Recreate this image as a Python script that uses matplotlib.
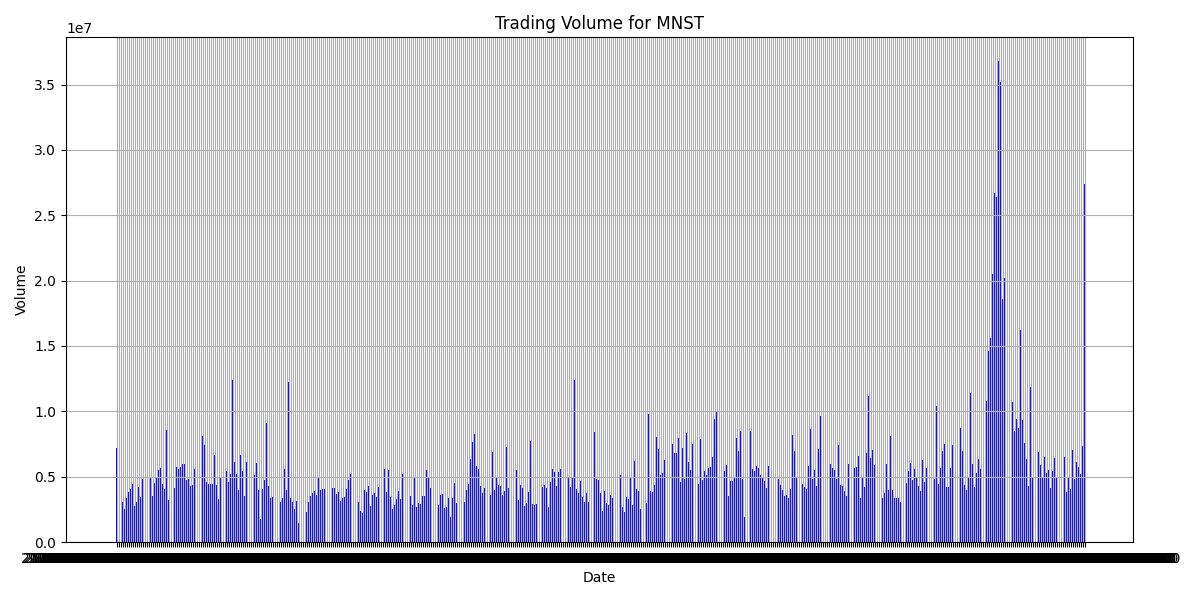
import numpy as np
import pandas as pd
import matplotlib
matplotlib.use('Agg')
import matplotlib.pyplot as plt

ticker = 'MNST'
start_date = '2023-11-27'

# position (in bar slots) of the first bar of each block
group_start = [0, 3.25, 17, 29.25, 43, 55.25, 69, 82.25, 95, 108.25,
               121, 134.25, 147, 161.25, 174, 187.25, 200, 213.25, 226,
               239.25, 252, 265.25, 278, 291.25, 304, 317.25, 331, 343.25,
               357, 369.25, 383, 395.25, 409, 422.25, 435, 448.25, 461,
               474.25]
# volumes in millions, one list per block
group_vol = [
    [7.2],
    [3.03, 2.52, 3.36, 3.82, 4.05, 4.43, 2.75, 3.05, 4.20, 3.44, 4.81],
    [4.99, 3.51, 4.48, 4.99, 5.50, 5.67, 4.43, 4.05, 8.55, 3.21],
    [4.12, 5.73, 5.57, 5.73, 5.95, 5.95, 4.73, 4.81, 4.27, 4.35, 5.57],
    [8.09, 7.40, 4.58, 4.43, 4.43, 4.43, 6.64, 4.35, 3.28, 4.96],
    [5.42, 4.58, 5.19, 12.37, 6.11, 5.19, 3.97, 6.64, 5.42, 3.51, 6.11],
    [5.11, 6.03, 3.97, 1.76, 4.05, 4.73, 9.08, 4.27, 3.36, 3.44],
    [3.05, 3.36, 5.57, 3.97, 12.21, 3.36, 3.05, 2.52, 3.13, 1.45],
    [2.29, 3.05, 3.51, 3.74, 3.89, 3.59, 4.96, 3.97, 4.05, 4.05],
    [4.12, 4.12, 3.66, 3.82, 3.13, 3.36, 3.44, 4.05, 4.73, 5.19],
    [3.05, 2.37, 2.21, 3.97, 3.82, 4.27, 2.75, 3.59, 3.74, 3.44, 4.20],
    [5.57, 3.82, 5.50, 3.44, 2.52, 2.82, 3.28, 3.89, 3.28, 5.19],
    [3.51, 2.82, 4.96, 2.67, 2.98, 2.90, 3.51, 3.51, 5.50, 4.89, 4.12],
    [2.82, 3.59, 3.66, 2.60, 2.67, 3.36, 1.91, 3.36, 4.50, 2.98],
    [3.05, 3.97, 4.43, 6.34, 7.63, 8.24, 5.80, 5.57, 4.27, 3.74, 4.12],
    [3.59, 6.87, 3.97, 4.96, 4.35, 4.27, 3.59, 3.89, 7.25, 4.12],
    [5.50, 3.21, 4.35, 4.12, 2.75, 2.98, 3.82, 7.71, 2.90, 2.82, 2.90],
    [4.20, 4.35, 4.12, 2.67, 4.58, 5.57, 5.34, 4.27, 5.34, 5.57],
    [4.96, 4.20, 4.89, 12.37, 4.05, 3.74, 4.66, 3.44, 3.05, 3.74, 3.05],
    [8.40, 4.81, 4.73, 3.74, 2.37, 3.89, 2.98, 2.82, 3.59, 3.36],
    [5.11, 2.67, 2.29, 3.44, 3.28, 4.96, 2.82, 6.18, 4.05, 3.89, 2.52],
    [2.98, 9.77, 3.89, 3.82, 4.35, 8.02, 7.10, 5.11, 5.27, 6.26],
    [7.48, 6.79, 6.79, 7.94, 4.58, 7.18, 4.80, 8.32, 6.11, 5.50, 7.48],
    [4.43, 7.86, 4.73, 5.42, 5.11, 5.65, 5.73, 6.49, 9.39, 9.92],
    [5.42, 5.88, 3.51, 4.66, 4.66, 4.96, 7.94, 6.95, 8.47, 4.81, 1.91],
    [8.47, 5.57, 5.42, 5.80, 5.65, 5.11, 4.96, 4.66, 4.12, 5.80],
    [4.81, 4.35, 3.97, 3.51, 3.59, 3.36, 4.05, 8.17, 6.95, 4.96],
    [4.43, 4.20, 4.05, 5.80, 8.63, 4.81, 5.50, 4.27, 7.10, 9.62],
    [5.95, 5.65, 5.50, 4.81, 7.40, 4.35, 4.27, 3.89, 3.51, 5.95],
    [5.65, 5.73, 6.56, 3.36, 4.89, 4.20, 6.79, 11.15, 6.41, 7.02, 5.88],
    [3.36, 3.74, 5.95, 3.97, 8.09, 3.97, 3.36, 3.36, 3.36, 3.05],
    [4.50, 5.42, 6.03, 4.73, 5.57, 4.89, 4.27, 3.89, 6.26, 4.58, 5.65],
    [4.81, 10.38, 4.43, 5.65, 6.95, 7.48, 4.20, 4.20, 5.65, 7.40],
    [8.70, 6.95, 4.35, 3.97, 4.96, 11.37, 5.95, 4.20, 5.27, 6.34, 5.57],
    [10.8, 14.6, 15.6, 20.5, 26.7, 26.4, 36.8, 35.2, 18.6, 20.2],
    [10.7, 8.47, 9.39, 8.70, 16.2, 9.31, 7.56, 6.34, 4.27, 11.83, 4.96],
    [6.87, 5.88, 4.96, 6.49, 5.27, 5.50, 4.12, 5.42, 6.41, 4.89],
    [6.49, 3.82, 4.89, 4.05, 7.02, 4.81, 6.11, 5.73, 5.19, 7.33, 27.4],
]

# bars, with a tick on every bar and ticks running on through the gaps
xpos, vol, ticks = [], [], []
for k, (s, vals) in enumerate(zip(group_start, group_vol)):
    xs = s + np.arange(len(vals))
    xpos.extend(xs)
    vol.extend(np.array(vals) * 1e6)
    ticks.extend(xs)
    if k + 1 < len(group_start):
        t = xs[-1] + 1
        while t < group_start[k + 1] - 0.6:
            ticks.append(t)
            t += 1

dates = [str(d) for d in pd.date_range(start_date, periods=len(ticks), freq='D',
                                         tz='America/New_York')]

fig = plt.figure(figsize=(12, 6), dpi=100)
# axes box in pixels: x 66..1133, y 37..542 -> 2 px per bar slot
ax = fig.add_axes([66 / 1200, 58 / 600, 1067 / 1200, 505 / 600])
ax.bar(xpos, vol, color='blue', width=0.8)
ax.set_xlim(-25.25, -25.25 + 1067 / 2)
ax.set_xticks(ticks)
ax.set_xticklabels(dates)
ax.set_title(f'Trading Volume for {ticker}')
ax.set_xlabel('Date')
ax.set_ylabel('Volume')
ax.grid(True)
plt.savefig('out.png', dpi=100)
